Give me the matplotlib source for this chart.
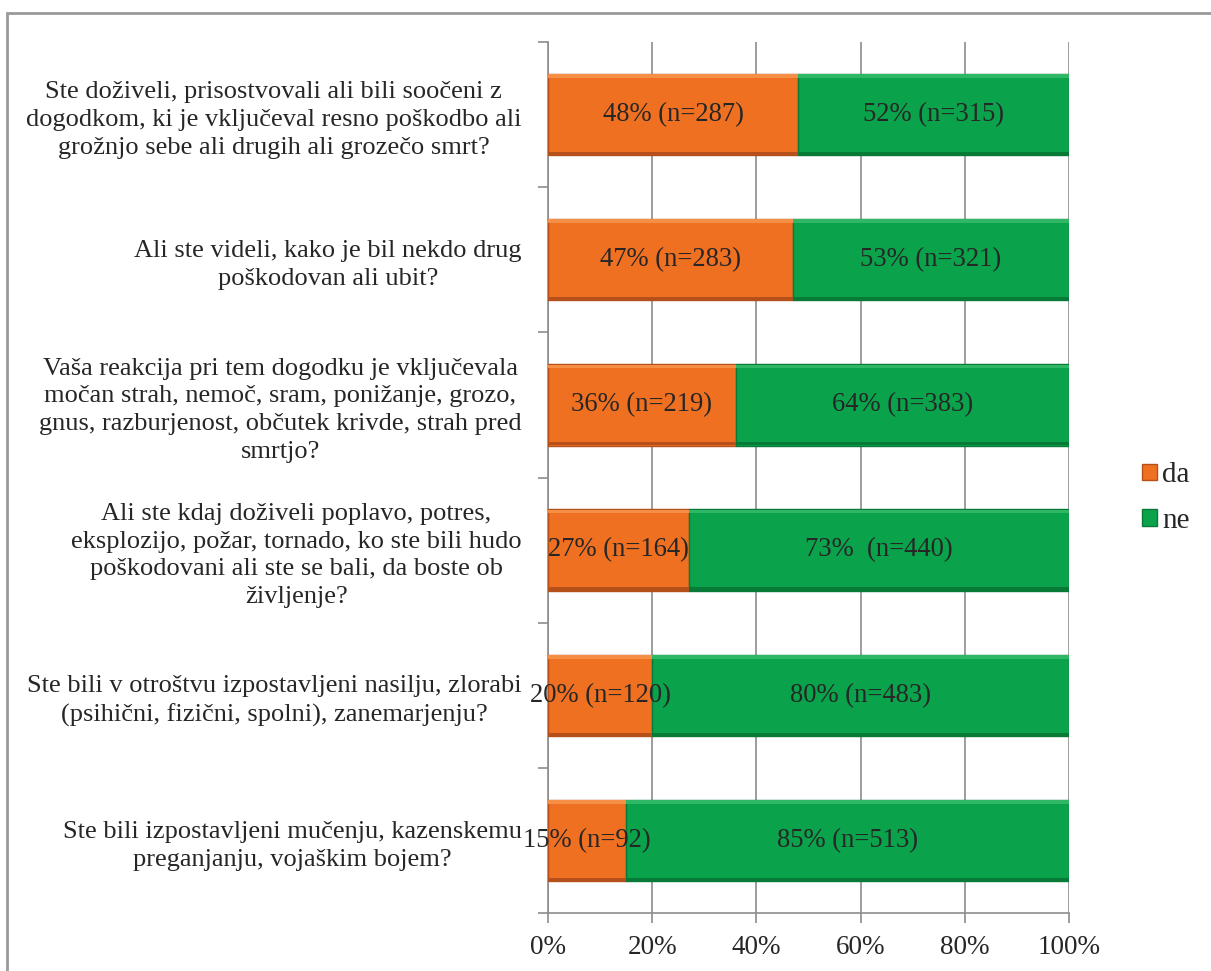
import matplotlib.pyplot as plt
from matplotlib.patches import Patch, Rectangle
import numpy as np

# data (top to bottom)
questions = [
    "Ste doživeli, prisostvovali ali bili soočeni z\ndogodkom, ki je vključeval resno poškodbo ali\ngrožnjo sebe ali drugih ali grozečo smrt?",
    "Ali ste videli, kako je bil nekdo drug\npoškodovan ali ubit?",
    "Vaša reakcija pri tem dogodku je vključevala\nmočan strah, nemoč, sram, ponižanje, grozo,\ngnus, razburjenost, občutek krivde, strah pred\nsmrtjo?",
    "Ali ste kdaj doživeli poplavo, potres,\neksplozijo, požar, tornado, ko ste bili hudo\npoškodovani ali ste se bali, da boste ob\nživljenje?",
    "Ste bili v otroštvu izpostavljeni nasilju, zlorabi\n(psihični, fizični, spolni), zanemarjenju?",
    "Ste bili izpostavljeni mučenju, kazenskemu\npreganjanju, vojaškim bojem?",
]
da_pct = [48, 47, 36, 27, 20, 15]
ne_pct = [52, 53, 64, 73, 80, 85]
da_n = [287, 283, 219, 164, 120, 92]
ne_n = [315, 321, 383, 440, 483, 513]
da_labels = [f"{p}% (n={n})" for p, n in zip(da_pct, da_n)]
ne_labels = [f"{p}% (n={n})" for p, n in zip(ne_pct, ne_n)]
ne_labels[3] = "73%  (n=440)"

ORANGE = '#F07022'
ORANGE_DK = '#B5501A'
ORANGE_LT = '#F58F45'
GREEN = '#0AA24B'
GREEN_DK = '#077A37'
GREEN_LT = '#30B765'
TXT = '#262626'
GRID = '#8C8C8C'

plt.rcParams['font.family'] = ['Liberation Serif', 'DejaVu Serif']

fig = plt.figure(figsize=(12.11, 9.71), dpi=100)
ax = fig.add_axes([548/1211, 1 - 913/971, 521/1211, 871/971])

y = np.arange(len(questions))
h = 0.56
da = np.array(da_pct) / 100
ne = np.array(ne_pct) / 100

ax.barh(y, da, height=h, color=ORANGE, edgecolor=ORANGE_DK, linewidth=1.0, zorder=3)
ax.barh(y, ne, left=da, height=h, color=GREEN, edgecolor=GREEN_DK, linewidth=1.0, zorder=3)
# bevel: light top strip, dark bottom strip
ax.barh(y - h/2 + 0.015, da, height=0.025, color=ORANGE_LT, linewidth=0, zorder=4)
ax.barh(y - h/2 + 0.015, ne, left=da, height=0.025, color=GREEN_LT, linewidth=0, zorder=4)
ax.barh(y + h/2 - 0.012, da, height=0.022, color=ORANGE_DK, linewidth=0, zorder=4)
ax.barh(y + h/2 - 0.012, ne, left=da, height=0.022, color=GREEN_DK, linewidth=0, zorder=4)

for i in range(len(questions)):
    ax.text(da[i] / 2, y[i], da_labels[i], ha='center', va='center',
            fontsize=19.2, color=TXT, zorder=5)
    ax.text(da[i] + ne[i] / 2, y[i], ne_labels[i], ha='center', va='center',
            fontsize=19.2, color=TXT, zorder=5)

ax.set_xlim(0, 1)
ax.set_ylim(len(questions) - 0.5, -0.5)
ax.set_xticks(np.linspace(0, 1, 6))
ax.set_xticklabels([f"{int(v)}%" for v in np.linspace(0, 100, 6)], fontsize=19.5, color=TXT)
ax.set_yticks(y)
ax.set_yticklabels(questions, fontsize=19, color=TXT, linespacing=1.34,
                   multialignment='center')
ax.set_yticks(np.arange(-0.5, len(questions)), minor=True)
ax.tick_params(axis='y', which='major', length=0, pad=19)
ax.tick_params(axis='y', which='minor', length=7, color=GRID, width=1.2)
ax.tick_params(axis='x', length=7, color=GRID, width=1.2, pad=9)
ax.grid(axis='x', color=GRID, linewidth=1.2, zorder=0)
ax.set_axisbelow(True)
for s in ['top', 'right']:
    ax.spines[s].set_visible(False)
for s in ['left', 'bottom']:
    ax.spines[s].set_color(GRID)
    ax.spines[s].set_linewidth(1.2)

handles = [Patch(facecolor=ORANGE, edgecolor=ORANGE_DK, label='da'),
           Patch(facecolor=GREEN, edgecolor=GREEN_DK, label='ne')]
fig.legend(handles=handles, loc='center left', bbox_to_anchor=(1142/1211, 1 - 498/971),
           frameon=False, fontsize=21, handlelength=0.52, handleheight=0.48,
           handletextpad=0.18, labelspacing=0.68, borderpad=0, borderaxespad=0,
           labelcolor=TXT)

fig.patches.append(Rectangle((7/1211, -0.1), 1.2, 1.1 - 13/971, transform=fig.transFigure,
                             fill=False, edgecolor='#9A9A9A', linewidth=2))

fig.savefig('out.png', dpi=100)
